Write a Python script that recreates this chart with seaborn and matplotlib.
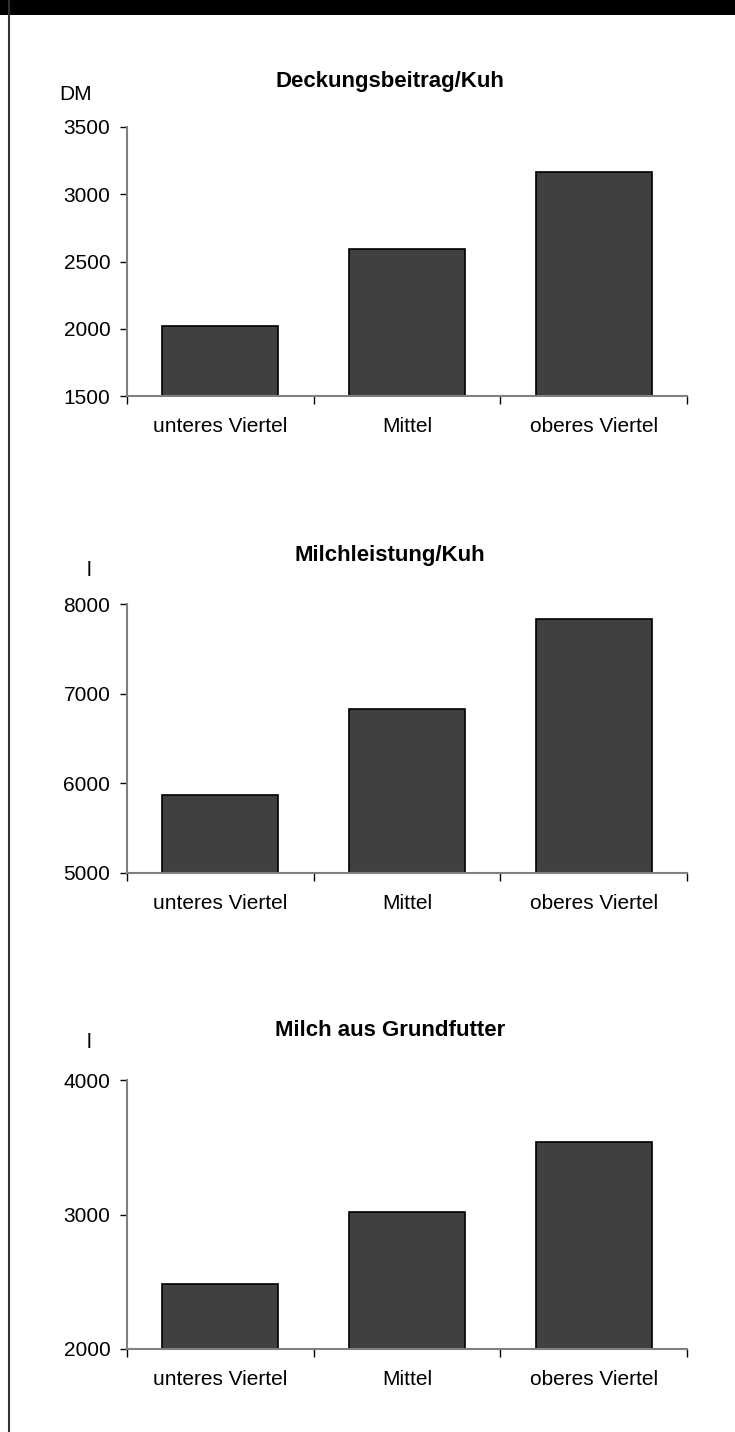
import matplotlib
matplotlib.use("Agg")
import matplotlib.pyplot as plt
from matplotlib.patches import Rectangle
from matplotlib.lines import Line2D
import seaborn as sns

# data
categories = ["unteres Viertel", "Mittel", "oberes Viertel"]

deckung_values = [2024, 2590, 3167]
deckung_ticks = [1500, 2000, 2500, 3000, 3500]

milch_values = [5867, 6830, 7828]
milch_ticks = [5000, 6000, 7000, 8000]

grund_values = [2483, 3019, 3541]
grund_ticks = [2000, 3000, 4000]

titles = ["Deckungsbeitrag/Kuh", "Milchleistung/Kuh", "Milch aus Grundfutter"]
units = ["DM", "l", "l"]


def main():
    sns.set_style("white")
    plt.rcParams["font.family"] = ["Liberation Sans", "DejaVu Sans"]
    plt.rcParams["text.color"] = "black"
    plt.rcParams["xtick.labelcolor"] = "black"
    plt.rcParams["ytick.labelcolor"] = "black"

    W, H = 735, 1432
    fig = plt.figure(figsize=(W / 100, H / 100), dpi=100)

    # pixel layout of the three panels (top edge of each axes)
    left, right = 127, 687
    ax_h = 269
    tops = [127, 604, 1080]
    unit_x = [76, 89, 89]
    unit_dy = [32, 34, 38]
    title_dy = [46, 49, 49]

    panels = [
        (deckung_values, deckung_ticks),
        (milch_values, milch_ticks),
        (grund_values, grund_ticks),
    ]

    for i, (vals, ticks) in enumerate(panels):
        ax = fig.add_axes([left / W, 1 - (tops[i] + ax_h) / H,
                           (right - left) / W, ax_h / H])
        sns.barplot(x=categories, y=vals, color="#404040", saturation=1,
                    edgecolor="black", linewidth=1.2, width=0.62, ax=ax)
        ax.set_xlim(-0.5, 2.5)
        ax.set_ylim(ticks[0], ticks[-1])
        ax.set_yticks(ticks)
        ax.set_yticklabels([str(t) for t in ticks], fontsize=15)
        ax.set_xticks(range(len(categories)))
        ax.set_xticklabels(categories, fontsize=15)
        ax.set_xticks([-0.5, 0.5, 1.5, 2.5], minor=True)
        ax.tick_params(axis="x", which="major", length=0, pad=15)
        ax.tick_params(axis="x", which="minor", length=6, width=1,
                       color="black", direction="out", bottom=True)
        ax.tick_params(axis="y", length=5, width=1, color="black",
                       direction="out", pad=7, left=True)
        ax.set_xlabel("")
        ax.set_ylabel("")
        sns.despine(ax=ax, top=True, right=True)
        for side in ("left", "bottom"):
            ax.spines[side].set_color("#808080")
            ax.spines[side].set_linewidth(1.5)

        # chart title and unit label
        ax.annotate(titles[i], xy=(0, 1), xycoords="axes fraction",
                    xytext=(263, title_dy[i]), textcoords="offset pixels",
                    ha="center", va="center", fontsize=16, fontweight="bold")
        ax.annotate(units[i], xy=(0, 1), xycoords="axes fraction",
                    xytext=(unit_x[i] - left, unit_dy[i]),
                    textcoords="offset pixels",
                    ha="center", va="center", fontsize=15)

    # page frame: black strip at top and thin line on the left
    fig.add_artist(Rectangle((0, 1 - 15 / H), 1, 15 / H, transform=fig.transFigure,
                             facecolor="black", edgecolor="none"))
    fig.add_artist(Line2D([9 / W, 9 / W], [0, 1], transform=fig.transFigure,
                          color="#333333", linewidth=1.5))

    fig.savefig("out.png", dpi=100)


if __name__ == "__main__":
    main()
